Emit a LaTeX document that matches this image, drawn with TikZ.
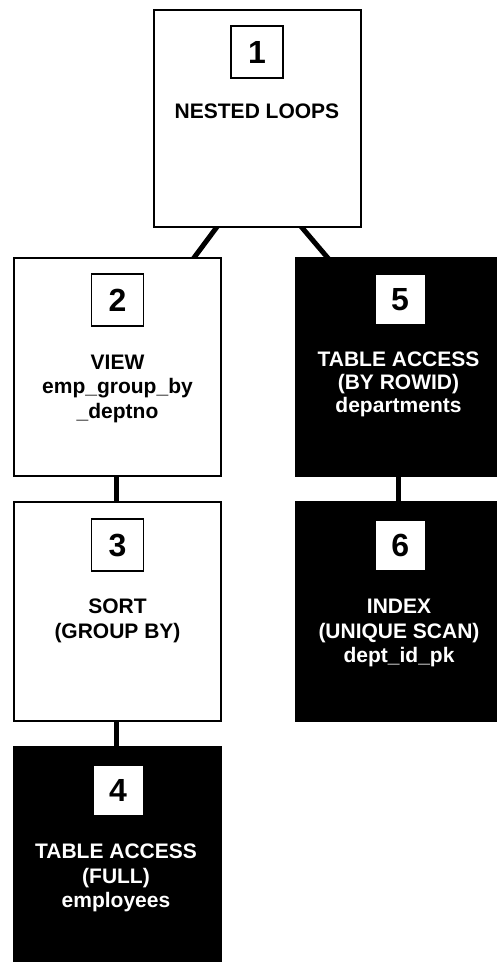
\documentclass[tikz,border=0pt]{standalone}
\usepackage{fontspec}
\setmainfont{Liberation Sans}
\usetikzlibrary{backgrounds}
\begin{document}
\begin{tikzpicture}[x=1pt,y=-1pt,
  wbox/.style={draw=black, line width=1.6pt, fill=white, minimum width=207.5pt, inner sep=0pt, outer sep=0pt},
  bbox/.style={fill=black, draw=none, minimum width=210pt, inner sep=0pt, outer sep=0pt},
  numfont/.style={font=\fontsize{32}{32}\selectfont\bfseries},
  wnum/.style={numfont, draw=black, line width=1.8pt, fill=white, minimum size=52pt, inner sep=0pt},
  bnum/.style={numfont, fill=white, draw=none, minimum size=49pt, inner sep=0pt},
  wlbl/.style={anchor=north, align=center, inner sep=0pt, text=black, font=\fontsize{21}{24.5}\selectfont\bfseries},
  blbl/.style={wlbl, text=white},
  conn/.style={line width=5pt, draw=black, shorten <=-4pt, shorten >=-4pt}]
\useasboundingbox (0,0) rectangle (497,962);
\clip (0,0) rectangle (497,962);

% boxes
\node[wbox, minimum height=217.5pt] (b1) at (257.5,118.5) {};
\node[wbox, minimum height=218.5pt] (b2) at (117.5,367) {};
\node[wbox, minimum height=219.5pt] (b3) at (117.5,611.5) {};
\node[bbox, minimum width=209pt, minimum height=220pt] (b4) at (117.5,856) {};
\node[bbox, minimum height=220pt] (b5) at (400,367) {};
\node[bbox, minimum height=221pt] (b6) at (400,611.5) {};

% number squares
\node[wnum] (n1) at (257,52) {1};
\node[wnum] (n2) at (117.5,300) {2};
\node[wnum] (n3) at (117.5,545) {3};
\node[bnum] (n4) at (118,790.5) {4};
\node[bnum] (n5) at (400,299.5) {5};
\node[bnum] (n6) at (400.3,545) {6};

% labels
\node[wlbl] (l1) at (257,104) {NESTED LOOPS};
\node[wlbl] (l2) at (117.5,354.5) {VIEW\\emp\_group\_by\\\_deptno};
\node[wlbl] (l3) at (117.5,599) {SORT\\(GROUP BY)};
\node[blbl] (l4) at (116,844) {TABLE ACCESS\\(FULL)\\employees};
\node[blbl, font=\fontsize{21}{23}\selectfont\bfseries] (l5) at (398.5,352) {TABLE ACCESS\\(BY ROWID)\\departments};
\node[blbl] (l6) at (399,599) {INDEX\\(UNIQUE SCAN)\\dept\_id\_pk};

% connectors
\begin{scope}[on background layer]
\draw[conn] ([xshift=-40.8pt]b1.south) -- ([xshift=76.5pt]b2.north);
\draw[conn] ([xshift=44.2pt]b1.south) -- ([xshift=-73pt]b5.north);
\draw[conn] ([xshift=-1.5pt]b2.south) -- ([xshift=-1.5pt]b3.north);
\draw[conn] ([xshift=-1.5pt]b3.south) -- ([xshift=-1.5pt]b4.north);
\draw[conn] ([xshift=-1.7pt]b5.south) -- ([xshift=-1.7pt]b6.north);
\end{scope}
\end{tikzpicture}
\end{document}
